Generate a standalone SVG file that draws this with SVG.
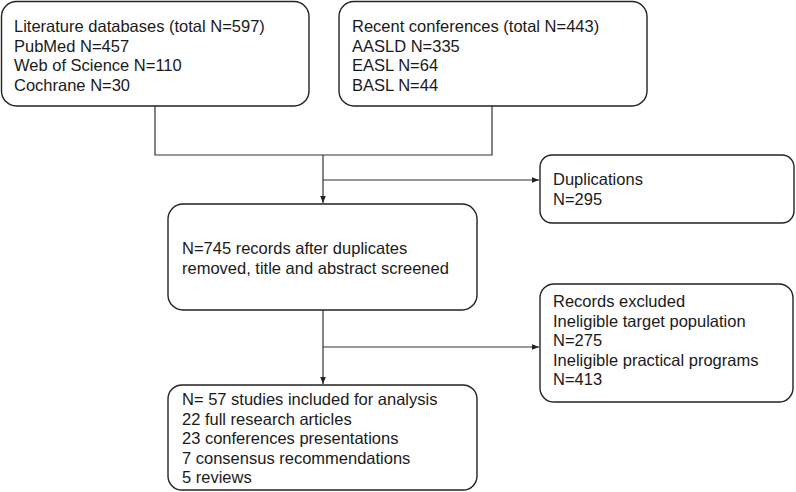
<svg xmlns="http://www.w3.org/2000/svg" width="796" height="492" viewBox="0 0 796 492">
<defs>
<style>
.box{fill:#fff;stroke:#222;stroke-width:1.4}
.t{font-family:"Liberation Sans",Arial,sans-serif;font-size:16.5px;fill:#1a1a1a}
.ln{fill:none;stroke:#333;stroke-width:1.2}
</style>
<marker id="ah" viewBox="0 0 10 10" refX="10" refY="5" markerWidth="7" markerHeight="7" markerUnits="userSpaceOnUse" orient="auto">
<path d="M0,1 L10,5 L0,9 z" fill="#222"/>
</marker>
</defs>
<rect width="796" height="492" fill="#fff"/>
<g id="connectors">
<polyline class="ln" points="155,106 155,155 492,155 492,106"/>
<line class="ln" x1="323" y1="155" x2="323" y2="203" marker-end="url(#ah)"/>
<line class="ln" x1="323" y1="180" x2="539" y2="180" marker-end="url(#ah)"/>
<line class="ln" x1="323" y1="310" x2="323" y2="384" marker-end="url(#ah)"/>
<line class="ln" x1="323" y1="347" x2="539" y2="347" marker-end="url(#ah)"/>
</g>
<g id="literature">
<rect class="box" x="1.5" y="1.5" width="307.5" height="104.5" rx="15"/>
<text class="t" x="14" y="32">Literature databases (total N=597)</text>
<text class="t" x="14" y="51.5">PubMed N=457</text>
<text class="t" x="14" y="71">Web of Science N=110</text>
<text class="t" x="14" y="90.5">Cochrane N=30</text>
</g>
<g id="conferences">
<rect class="box" x="339" y="1.5" width="308" height="104.5" rx="15"/>
<text class="t" x="352" y="32">Recent conferences (total N=443)</text>
<text class="t" x="352" y="51.5">AASLD N=335</text>
<text class="t" x="352" y="71">EASL N=64</text>
<text class="t" x="352" y="90.5">BASL N=44</text>
</g>
<g id="screened">
<rect class="box" x="168" y="204" width="309" height="106" rx="15"/>
<text class="t" x="182" y="254">N=745 records after duplicates</text>
<text class="t" x="182" y="273.5">removed, title and abstract screened</text>
</g>
<g id="duplications">
<rect class="box" x="540" y="155" width="254" height="68" rx="12"/>
<text class="t" x="553" y="185">Duplications</text>
<text class="t" x="553" y="204.5">N=295</text>
</g>
<g id="excluded">
<rect class="box" x="540" y="284" width="253" height="118" rx="14"/>
<text class="t" x="553" y="307">Records excluded</text>
<text class="t" x="553" y="326.5">Ineligible target population</text>
<text class="t" x="553" y="346">N=275</text>
<text class="t" x="553" y="365.5">Ineligible practical programs</text>
<text class="t" x="553" y="385">N=413</text>
</g>
<g id="included">
<rect class="box" x="168" y="385" width="309" height="105" rx="14"/>
<text class="t" x="182" y="405">N= 57 studies included for analysis</text>
<text class="t" x="182" y="424.5">22 full research articles</text>
<text class="t" x="182" y="444">23 conferences presentations</text>
<text class="t" x="182" y="463.5">7 consensus recommendations</text>
<text class="t" x="182" y="483">5 reviews</text>
</g>
</svg>
